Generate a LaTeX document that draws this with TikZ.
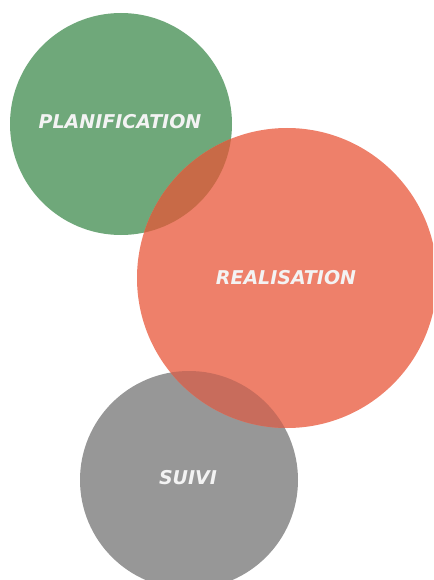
\documentclass[tikz,border=0pt]{standalone}
\usepackage{fontspec}
\newfontfamily\phasefont{DejaVu Sans}
\usetikzlibrary{positioning}

\definecolor{planGreen}{HTML}{6FA87A}
\definecolor{realRed}{HTML}{EE806A}
\definecolor{suiviGray}{HTML}{979797}
\definecolor{planRealMix}{HTML}{C86A47}
\definecolor{realSuiviMix}{HTML}{C86C5C}
\definecolor{labelWhite}{HTML}{F3F3F3}

\begin{document}
\begin{tikzpicture}[
    x=1pt, y=-1pt,
    phase/.style={circle, inner sep=0pt, draw=none},
    phaselabel/.style={font=\phasefont\bfseries\itshape\fontsize{19}{22}\selectfont, text=labelWhite, inner sep=0pt}
]
\useasboundingbox (0,0) rectangle (433,580);
\clip (0,0) rectangle (433,580);

% The three circles
\node[phase, fill=planGreen, minimum size=222pt] (plan) at (121,124) {};
\node[phase, fill=suiviGray, minimum size=218pt] (suivi) at (189,480) {};
\node[phase, fill=realRed, minimum size=300pt] (real) at (287,278) {};

% Overlaps
\begin{scope}
  \clip (plan.center) circle (111pt);
  \fill[planRealMix] (real.center) circle (150pt);
\end{scope}
\begin{scope}
  \clip (suivi.center) circle (109pt);
  \fill[realSuiviMix] (real.center) circle (150pt);
\end{scope}

% Labels
\node[phaselabel] (planText) at ([xshift=-1pt,yshift=2pt]plan.center) {PLANIFICATION};
\node[phaselabel] (realText) at ([xshift=-1pt]real.center) {REALISATION};
\node[phaselabel] (suiviText) at ([xshift=-1pt,yshift=2pt]suivi.center) {SUIVI};

\end{tikzpicture}
\end{document}
